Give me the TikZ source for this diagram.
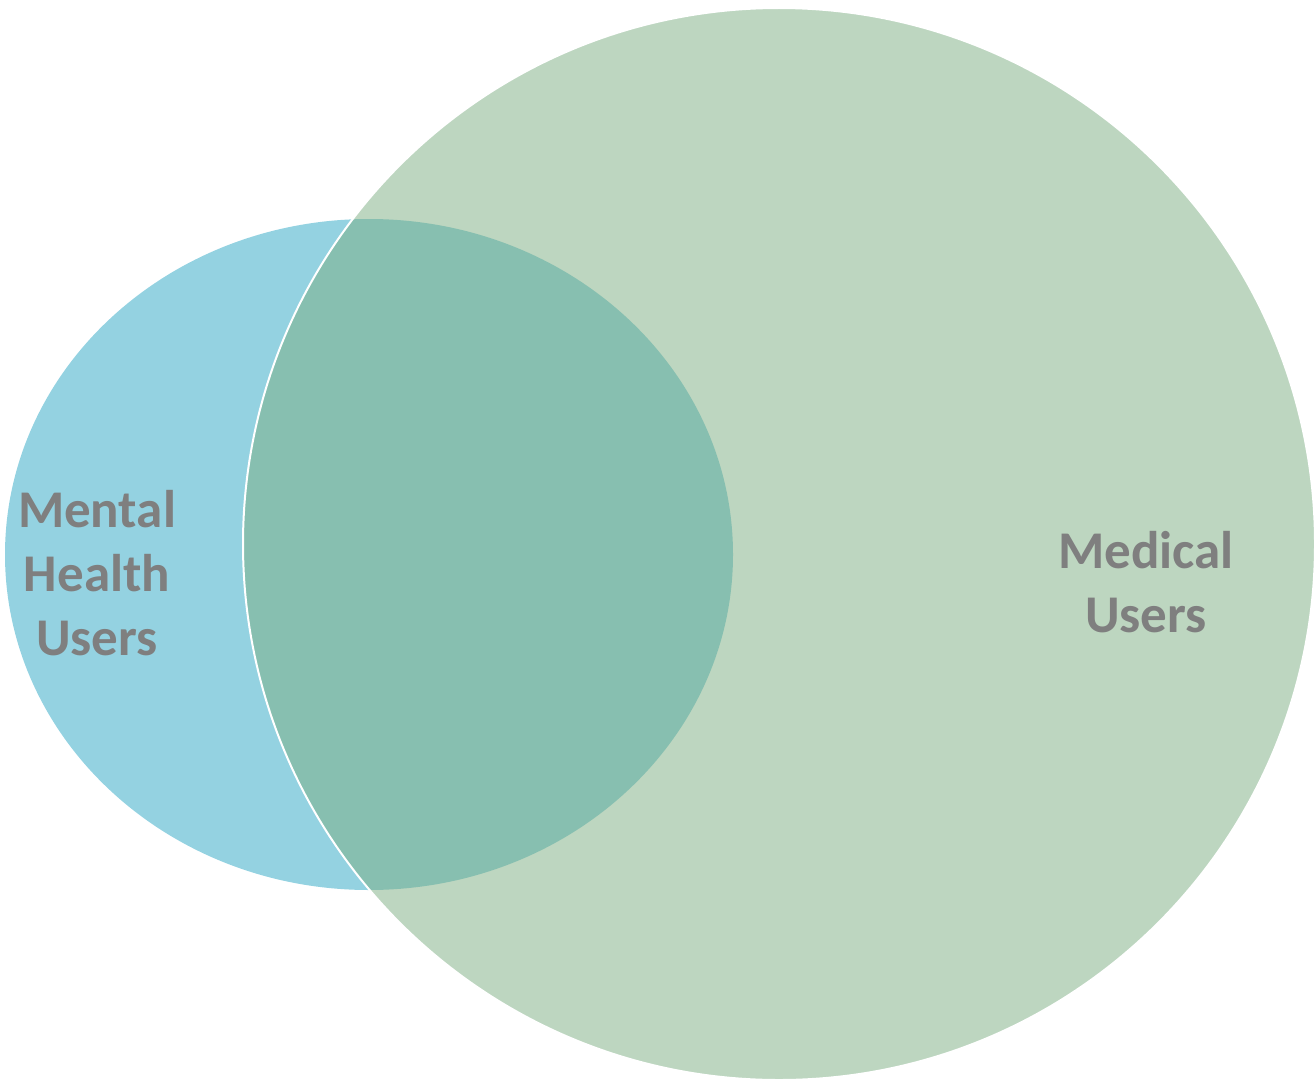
\documentclass[tikz,border=0pt]{standalone}
\usepackage{fontspec}
\setmainfont{Carlito}
\definecolor{mhblue}{RGB}{148,210,225}
\definecolor{medgreen}{RGB}{123,173,129}
\definecolor{labelgray}{RGB}{127,127,127}
\begin{document}
\begin{tikzpicture}[x=1pt,y=-1pt,
  setlabel/.style={text=labelgray, font=\fontsize{53}{64}\selectfont\bfseries, align=center, inner sep=0pt}]
\useasboundingbox (0,0) rectangle (1316,1081);
\fill[mhblue] (369,554.5) ellipse [x radius=364, y radius=335.5];
\path[fill=medgreen, fill opacity=0.5, draw=white, line width=2pt] (779,544) ellipse [x radius=536, y radius=536];
\node[setlabel] (mh) at (97,573) {Mental\\Health\\Users};
\node[setlabel] (med) at (1146,582) {Medical\\Users};
\end{tikzpicture}
\end{document}
